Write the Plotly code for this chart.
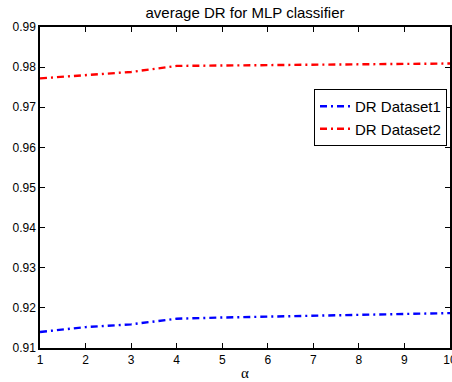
import plotly.graph_objects as go

alpha = [1, 2, 3, 4, 5, 6, 7, 8, 9, 10]
dr_dataset1 = [0.9140, 0.9152, 0.9159, 0.9173, 0.9176, 0.9178, 0.9181, 0.9183, 0.9185, 0.9187]
dr_dataset2 = [0.9772, 0.9780, 0.9788, 0.9803, 0.9804, 0.9805, 0.9807, 0.9807, 0.9808, 0.9809]
y_ticks = [0.91, 0.92, 0.93, 0.94, 0.95, 0.96, 0.97, 0.98, 0.99]

fig = go.Figure()
fig.add_trace(go.Scatter(x=alpha, y=dr_dataset1, mode="lines", name="DR Dataset1",
                         line=dict(color="#0000ff", width=2.4, dash="7px,4px,2px,4px")))
fig.add_trace(go.Scatter(x=alpha, y=dr_dataset2, mode="lines", name="DR Dataset2",
                         line=dict(color="#ff0000", width=2.4, dash="7px,4px,2px,4px")))

axis_common = dict(showline=True, linecolor="black", linewidth=1.5, mirror="ticks",
                   ticks="inside", ticklen=5, tickcolor="black", tickwidth=1, showgrid=False,
                   zeroline=False, ticklabeloverflow="allow", automargin=False,
                   tickfont=dict(family="Liberation Sans, Arial", size=12, color="black"))

fig.update_layout(
    width=452, height=382,
    margin=dict(l=40, r=2, t=27, b=34, autoexpand=False),
    paper_bgcolor="white", plot_bgcolor="white",
    title=dict(text="average DR for MLP classifier", x=0.5, xref="paper",
               y=1 - 13 / 382, yref="container", yanchor="middle", xanchor="center",
               font=dict(family="Liberation Sans, Arial", size=15, color="black")),
    xaxis=dict(range=[1, 10], tickvals=alpha, ticktext=[str(a) for a in alpha],
               **axis_common),
    yaxis=dict(range=[0.91, 0.99], tickvals=y_ticks, ticktext=[f"{v:.2f}" for v in y_ticks],
               **axis_common),
    legend=dict(x=(447 - 40) / 410, y=(348 - 89) / 321, xanchor="right", yanchor="top",
                bordercolor="black", borderwidth=1, bgcolor="white",
                font=dict(family="Liberation Sans, Arial", size=15, color="black"),
                tracegroupgap=0, itemwidth=30),
    showlegend=True,
    annotations=[dict(text="α", x=0.5, y=0, xref="paper", yref="paper",
                      xanchor="center", yanchor="middle", yshift=-25, showarrow=False,
                      font=dict(family="Liberation Serif, Times New Roman", size=15, color="black"))],
)

fig.write_html("out.html", config={"displayModeBar": False},
               post_script="document.body.style.margin='0';document.body.style.overflow='hidden';")
